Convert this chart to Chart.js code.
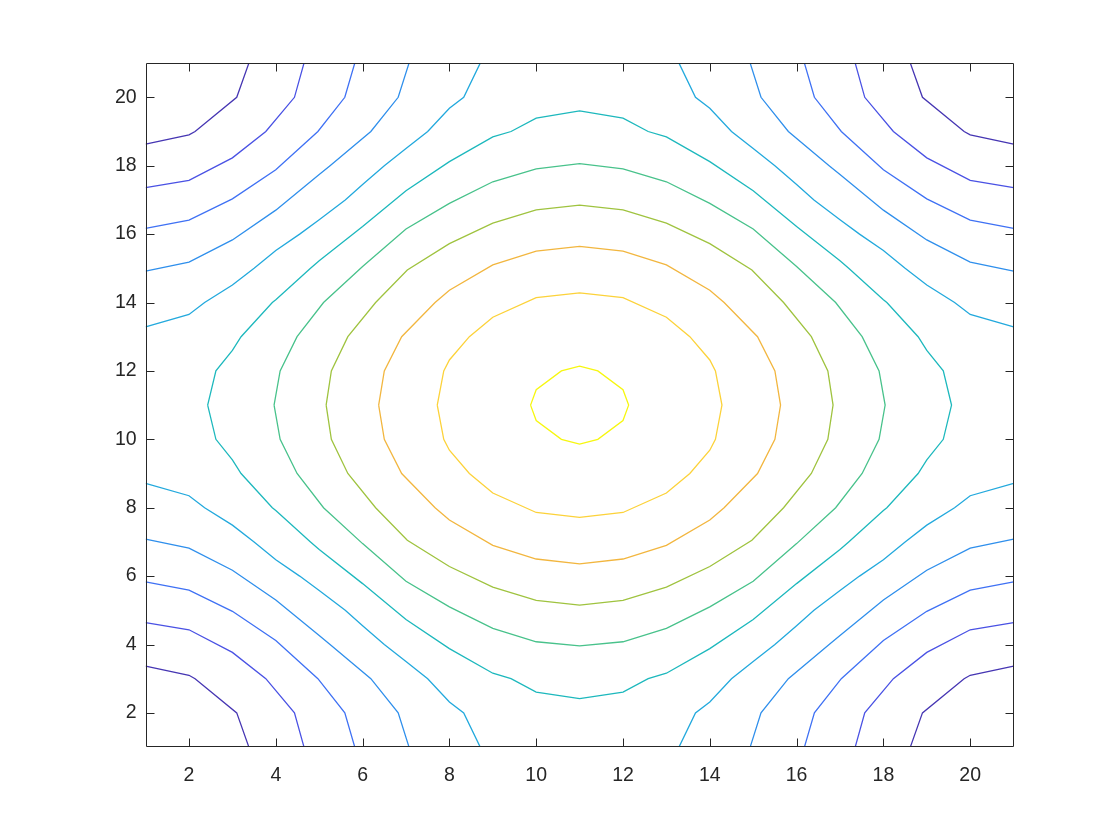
<!DOCTYPE html>
<html>
<head>
<meta charset="utf-8">
<title>Contour</title>
<script src="https://cdn.jsdelivr.net/npm/chart.js@4.4.1/dist/chart.umd.min.js"></script>
<style>
  html, body { margin: 0; padding: 0; background: #ffffff; }
  canvas { display: block; }
</style>
</head>
<body>
<canvas id="contourChart" width="1120" height="840"></canvas>
<script>
// --- DATA (x, y pairs) ---
const xTicks = [2, 4, 6, 8, 10, 12, 14, 16, 18, 20];
const yTicks = [2, 4, 6, 8, 10, 12, 14, 16, 18, 20];

// closed rings round the peak, outermost first
const ring1 = [[2.43,11],[2.62,12],[3,12.6],[3.2,13],[3.92,14],[4,14.08],[4.8,15],[5,15.22],[6,16.22],[7,17.27],[8,18.12],[9,18.84],[9.42,19],[10,19.39],[11,19.6],
  [12,19.39],[12.58,19],[13,18.84],[14,18.12],[15,17.27],[16,16.22],[17,15.22],[17.2,15],[18,14.08],[18.08,14],[18.8,13],[19,12.6],[19.38,12],[19.57,11],
  [19.38,10],[19,9.4],[18.8,9],[18.08,8],[18,7.92],[17.2,7],[17,6.78],[16,5.78],[15,4.73],[14,3.88],[13,3.16],[12.58,3],[12,2.61],[11,2.42],
  [10,2.61],[9.42,3],[9,3.16],[8,3.88],[7,4.73],[6,5.78],[5,6.78],[4.8,7],[4,7.92],[3.92,8],[3.2,9],[3,9.4],[2.62,10],[2.43,11]];
const ring2 = [[3.96,11],[4.1,12],[4.49,13],[5.1,14],[6,15.05],[7,16.15],[8,16.9],[9,17.53],[10,17.91],[11,18.06],
  [12,17.91],[13,17.53],[14,16.9],[15,16.15],[16,15.05],[16.9,14],[17.51,13],[17.9,12],[18.04,11],
  [17.9,10],[17.51,9],[16.9,8],[16,6.95],[15,5.85],[14,5.1],[13,4.47],[12,4.08],[11,3.96],
  [10,4.08],[9,4.47],[8,5.1],[7,5.85],[6,6.95],[5.1,8],[4.49,9],[4.1,10],[3.96,11]];
const ring3 = [[5.16,11],[5.28,12],[5.66,13],[6.3,14],[7.03,14.95],[8,15.72],[9,16.32],[10,16.71],[11,16.85],
  [12,16.71],[13,16.32],[14,15.72],[14.97,14.95],[15.7,14],[16.34,13],[16.72,12],[16.84,11],
  [16.72,10],[16.34,9],[15.7,8],[14.97,7.05],[14,6.28],[13,5.68],[12,5.29],[11,5.15],
  [10,5.29],[9,5.68],[8,6.28],[7.03,7.05],[6.3,8],[5.66,9],[5.28,10],[5.16,11]];
const ring4 = [[6.37,11],[6.5,12],[6.9,13],[7.67,14],[8,14.36],[9,15.1],[10,15.5],[11,15.64],
  [12,15.5],[13,15.1],[14,14.36],[14.33,14],[15.1,13],[15.5,12],[15.63,11],
  [15.5,10],[15.1,9],[14.33,8],[14,7.64],[13,6.9],[12,6.5],[11,6.36],
  [10,6.5],[9,6.9],[8,7.64],[7.67,8],[6.9,9],[6.5,10],[6.37,11]];
const ring5 = [[7.72,11],[7.87,12],[8,12.32],[8.46,13],[9,13.57],[10,14.14],[11,14.28],
  [12,14.14],[13,13.57],[13.54,13],[14,12.32],[14.13,12],[14.28,11],
  [14.13,10],[14,9.68],[13.54,9],[13,8.43],[12,7.86],[11,7.72],
  [10,7.86],[9,8.43],[8.46,9],[8,9.68],[7.87,10],[7.72,11]];
const ring6 = [[9.87,11],[10,11.45],[10.58,12],[11,12.14],[11.42,12],[12,11.45],[12.13,11],[12,10.55],[11.42,10],[11,9.86],[10.58,10],[10,10.55],[9.87,11]];

// open lines in the corners, darkest (lowest) first
const c1TopLeft = [[1,18.63],[2,18.9],[2.14,19],[3.1,20],[3.38,21]];
const c2TopLeft = [[1,17.36],[2,17.57],[3,18.23],[3.77,19],[4.43,20],[4.65,21]];
const c3TopLeft = [[1,16.17],[2,16.41],[3,17.03],[4,17.88],[4.97,19],[5.59,20],[5.82,21]];
const c4TopLeft = [[1,14.92],[2,15.18],[3,15.83],[4,16.7],[5,17.74],[5.25,18],[6.19,19],[6.82,20],[7.07,21]];
const c5TopLeft = [[1,13.29],[2,13.65],[2.36,14],[3,14.51],[3.5,15],[4,15.52],[4.55,16],[5,16.42],[5.6,17],[6,17.45],[6.5,18],[7,18.5],[7.5,19],[8,19.68],[8.33,20],[8.71,21]];

const c1TopRight = [[21,18.63],[20,18.9],[19.86,19],[18.9,20],[18.62,21]];
const c2TopRight = [[21,17.36],[20,17.57],[19,18.23],[18.23,19],[17.57,20],[17.35,21]];
const c3TopRight = [[21,16.17],[20,16.41],[19,17.03],[18,17.88],[17.03,19],[16.41,20],[16.18,21]];
const c4TopRight = [[21,14.92],[20,15.18],[19,15.83],[18,16.7],[17,17.74],[16.75,18],[15.81,19],[15.18,20],[14.93,21]];
const c5TopRight = [[21,13.29],[20,13.65],[19.64,14],[19,14.51],[18.5,15],[18,15.52],[17.45,16],[17,16.42],[16.4,17],[16,17.45],[15.5,18],[15,18.5],[14.5,19],[14,19.68],[13.67,20],[13.29,21]];

const c1BottomLeft = [[1,3.37],[2,3.1],[2.14,3],[3.1,2],[3.38,1]];
const c2BottomLeft = [[1,4.64],[2,4.43],[3,3.77],[3.77,3],[4.43,2],[4.65,1]];
const c3BottomLeft = [[1,5.83],[2,5.59],[3,4.97],[4,4.12],[4.97,3],[5.59,2],[5.82,1]];
const c4BottomLeft = [[1,7.08],[2,6.82],[3,6.17],[4,5.3],[5,4.26],[5.25,4],[6.19,3],[6.82,2],[7.07,1]];
const c5BottomLeft = [[1,8.71],[2,8.35],[2.36,8],[3,7.49],[3.5,7],[4,6.48],[4.55,6],[5,5.58],[5.6,5],[6,4.55],[6.5,4],[7,3.5],[7.5,3],[8,2.32],[8.33,2],[8.71,1]];

const c1BottomRight = [[21,3.37],[20,3.1],[19.86,3],[18.9,2],[18.62,1]];
const c2BottomRight = [[21,4.64],[20,4.43],[19,3.77],[18.23,3],[17.57,2],[17.35,1]];
const c3BottomRight = [[21,5.83],[20,5.59],[19,4.97],[18,4.12],[17.03,3],[16.41,2],[16.18,1]];
const c4BottomRight = [[21,7.08],[20,6.82],[19,6.17],[18,5.3],[17,4.26],[16.75,4],[15.81,3],[15.18,2],[14.93,1]];
const c5BottomRight = [[21,8.71],[20,8.35],[19.64,8],[19,7.49],[18.5,7],[18,6.48],[17.45,6],[17,5.58],[16.4,5],[16,4.55],[15.5,4],[15,3.5],[14.5,3],[14,2.32],[13.67,2],[13.29,1]];

// parula-like colours, one per contour level (low -> high)
const levelColors = ['#4636b3', '#4a52e4', '#3f71f4', '#2f8fec', '#23a9dd', '#1db8bd', '#48c28b', '#9fc33f', '#f2b63f', '#fcd23a', '#f7f710'];

// which level each polyline belongs to
const contourLines = [
  [c1TopLeft, 0], [c1TopRight, 0], [c1BottomLeft, 0], [c1BottomRight, 0],
  [c2TopLeft, 1], [c2TopRight, 1], [c2BottomLeft, 1], [c2BottomRight, 1],
  [c3TopLeft, 2], [c3TopRight, 2], [c3BottomLeft, 2], [c3BottomRight, 2],
  [c4TopLeft, 3], [c4TopRight, 3], [c4BottomLeft, 3], [c4BottomRight, 3],
  [c5TopLeft, 4], [c5TopRight, 4], [c5BottomLeft, 4], [c5BottomRight, 4],
  [ring1, 5], [ring2, 6], [ring3, 7], [ring4, 8], [ring5, 9], [ring6, 10]
];

// --- CHART ---
const AXIS_COLOR = '#262626';
const TICK_LEN = 8;

const axesBox = {
  id: 'axesBox',
  afterDatasetsDraw(chart) {
    const { ctx, chartArea: a, scales: { x, y } } = chart;
    const L = Math.round(a.left) + 0.5, R = Math.round(a.right) - 0.5;
    const T = Math.round(a.top) + 0.5, B = Math.round(a.bottom) - 0.5;
    ctx.save();
    ctx.strokeStyle = AXIS_COLOR;
    ctx.lineWidth = 1;
    ctx.beginPath();
    ctx.rect(L, T, R - L, B - T);
    xTicks.forEach(v => {
      const px = Math.round(x.getPixelForValue(v)) + 0.5;
      ctx.moveTo(px, B); ctx.lineTo(px, B - TICK_LEN);
      ctx.moveTo(px, T); ctx.lineTo(px, T + TICK_LEN);
    });
    yTicks.forEach(v => {
      const py = Math.round(y.getPixelForValue(v)) + 0.5;
      ctx.moveTo(L, py); ctx.lineTo(L + TICK_LEN, py);
      ctx.moveTo(R, py); ctx.lineTo(R - TICK_LEN, py);
    });
    ctx.stroke();
    ctx.restore();
  }
};

const ctx = document.getElementById('contourChart').getContext('2d');
const tickFont = { family: "Helvetica, 'Liberation Sans', Arial, sans-serif", size: 19.5 };

new Chart(ctx, {
  type: 'scatter',
  data: {
    datasets: contourLines.map(([pts, lvl]) => ({
      data: pts.map(p => ({ x: p[0], y: p[1] })),
      showLine: true,
      borderColor: levelColors[lvl],
      borderWidth: 1.3,
      pointRadius: 0,
      pointHoverRadius: 0,
      tension: 0,
      fill: false
    }))
  },
  options: {
    responsive: false,
    devicePixelRatio: 1,
    animation: false,
    events: [],
    layout: { padding: { top: 63.1, right: 106.4, bottom: 0, left: 0 } },
    plugins: { legend: { display: false }, tooltip: { enabled: false } },
    scales: {
      x: {
        type: 'linear', min: 1, max: 21,
        grid: { display: false, drawTicks: false },
        border: { display: false },
        afterBuildTicks: s => { s.ticks = xTicks.map(v => ({ value: v })); },
        afterFit: s => { s.height = 92.9; },
        ticks: { color: AXIS_COLOR, font: tickFont, padding: 17, maxRotation: 0 }
      },
      y: {
        type: 'linear', min: 1, max: 21,
        grid: { display: false, drawTicks: false },
        border: { display: false },
        afterBuildTicks: s => { s.ticks = yTicks.map(v => ({ value: v })); },
        afterFit: s => { s.width = 145.6; },
        ticks: { color: AXIS_COLOR, font: tickFont, padding: 9 }
      }
    }
  },
  plugins: [axesBox]
});
</script>
</body>
</html>
